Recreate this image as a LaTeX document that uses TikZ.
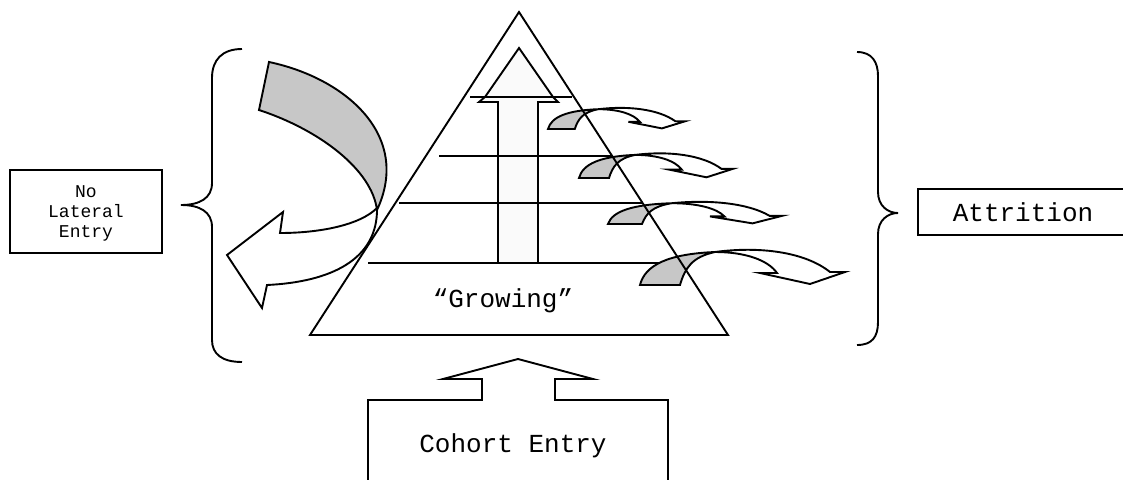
\documentclass[tikz,border=0pt]{standalone}
\usepackage{fontspec}
\setmonofont{Liberation Mono}
\newcommand{\attrarrow}[4]{%
  \begin{scope}[shift={(#1,#2)},xscale=#3,yscale=#4]
    \filldraw[shaded] (0,0) .. controls (5,-20) and (28,-31) .. (75,-33)
      .. controls (52,-28) and (45,-17) .. (40,0) -- cycle;
    \filldraw[plain] (75,-33) .. controls (120,-39) and (165,-33) .. (190,-13)
      -- (205,-13) -- (170,-1) -- (120,-12) -- (137,-12)
      .. controls (128,-25) and (105,-33) .. (75,-33) -- cycle;
  \end{scope}}
\tikzset{
  ln/.style={line width=1.9pt, line join=miter},
  shaded/.style={ln, fill=black!22},
  plain/.style={ln, fill=white},
  lbl/.style={font=\ttfamily\fontsize{26}{30}\selectfont, inner sep=0pt},
  smalllbl/.style={font=\ttfamily\fontsize{18}{20}\selectfont, inner sep=0pt, align=center},
}
\begin{document}
\begin{tikzpicture}[x=1pt,y=-1pt]
\useasboundingbox (0,0) rectangle (1123,479);

% inner up arrow
\filldraw[ln, fill=black!2] (498,263) -- (498,102) -- (479,102) -- (485,97) -- (519,48)
  -- (553,97) -- (558,102) -- (538,102) -- (538,263);

% level lines
\draw[ln] (470,97) -- (572,97);
\draw[ln] (439,156) -- (612,156);
\draw[ln] (399,203) -- (643,203);
\draw[ln] (368,263) -- (681,263);

% attrition arrows
\attrarrow{548}{129}{0.67}{0.6}
\attrarrow{579}{178}{0.75}{0.7}
\attrarrow{608}{224}{0.85}{0.63}
\attrarrow{640}{285}{1}{1}

% big left arrow (no lateral entry)
\filldraw[plain] (377,208) .. controls (360,225) and (320,233) .. (280,233)
  -- (283,212) -- (227,255) -- (262,308) -- (267,285)
  .. controls (330,282) and (378,260) .. (377,208) -- cycle;
\filldraw[shaded] (269,62) .. controls (345,78) and (412,135) .. (377,210)
  .. controls (372,170) and (320,130) .. (259,110) -- cycle;

% pyramid
\draw[ln] (519,12) -- (728,335) -- (310,335) -- cycle;
\node[lbl] (growing) at (503,301) {“Growing”};

% braces
\draw[ln] (242,49) .. controls (222,49) and (212,60) .. (212,78) -- (212,183)
  .. controls (212,198) and (200,205) .. (181,205)
  .. controls (200,205) and (212,212) .. (212,227) -- (212,340)
  .. controls (212,354) and (222,362) .. (242,362);
\draw[ln] (857,52) .. controls (872,52) and (878,62) .. (878,76) -- (878,192)
  .. controls (878,206) and (888,213) .. (898,213)
  .. controls (888,213) and (878,220) .. (878,234) -- (878,322)
  .. controls (878,337) and (872,345) .. (857,345);

% labels
\draw[ln] (10,170) rectangle (162,253);
\node[smalllbl] (nolat) at (86,213) {No\\Lateral\\Entry};
\draw[ln] (1130,189) -- (918,189) -- (918,235) -- (1130,235);
\node[lbl] (attr) at (1023,212) {Attrition};

% cohort entry
\draw[ln] (368,485) -- (368,400) -- (482,400) -- (482,379) -- (443,379) -- (518,359)
  -- (593,379) -- (555,379) -- (555,400) -- (668,400) -- (668,485);
\node[lbl] (cohort) at (513,446) {Cohort Entry};
\end{tikzpicture}
\end{document}
